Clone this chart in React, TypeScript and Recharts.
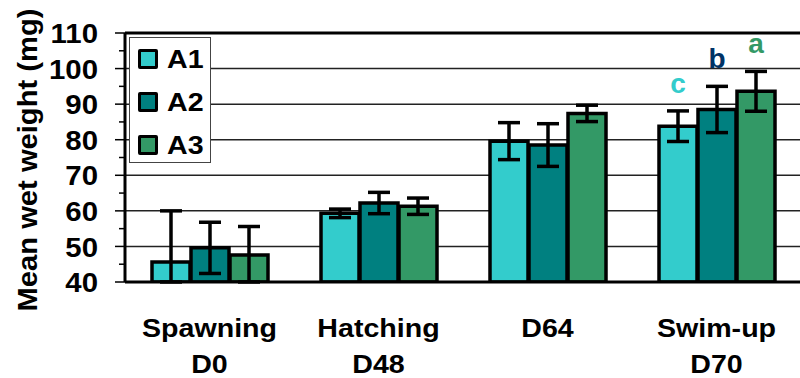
import React from 'react';
import {
  BarChart,
  Bar,
  XAxis,
  YAxis,
  CartesianGrid,
  ErrorBar,
  ReferenceLine,
  Legend,
  LabelList,
} from 'recharts';

// ---- data ----
const stages = ['Spawning', 'Hatching', 'D64', 'Swim-up'];
const days = ['D0', 'D48', '', 'D70'];

const a1Mean = [45.6, 59.3, 79.6, 83.8];
const a1ErrLow = [5.6, 1.2, 5.2, 4.3];
const a1ErrHigh = [14.4, 1.2, 5.2, 4.3];
const a2Mean = [49.6, 62.2, 78.5, 88.5];
const a2ErrLow = [7.2, 3.0, 6.0, 6.5];
const a2ErrHigh = [7.2, 3.0, 6.0, 6.5];
const a3Mean = [47.6, 61.3, 87.4, 93.6];
const a3ErrLow = [7.6, 2.3, 2.3, 5.6];
const a3ErrHigh = [8.0, 2.3, 2.3, 5.6];

const a1Letter = ['', '', '', 'c'];
const a2Letter = ['', '', '', 'b'];
const a3Letter = ['', '', '', 'a'];

const seriesNames = ['A1', 'A2', 'A3'];
const seriesColors = ['#33CCCC', '#008080', '#339966'];
const letterColors = ['#33CCCC', '#003366', '#339966'];

const yTicks = [40, 45, 50, 55, 60, 65, 70, 75, 80, 85, 90, 95, 100, 105, 110];
const gridValues = [50, 60, 70, 80, 90, 100];
const edgeTicks = [0, 1, 2, 3, 4];
const Y_MIN = 40;
const Y_MAX = 110;

const data = stages.map((s, i) => ({
  stage: s,
  A1: a1Mean[i],
  A1err: [a1ErrLow[i], a1ErrHigh[i]],
  A1letter: a1Letter[i],
  A2: a2Mean[i],
  A2err: [a2ErrLow[i], a2ErrHigh[i]],
  A2letter: a2Letter[i],
  A3: a3Mean[i],
  A3err: [a3ErrLow[i], a3ErrHigh[i]],
  A3letter: a3Letter[i],
}));

const FONT = '"Liberation Sans", Arial, Helvetica, sans-serif';
const Y_TICK_SIZE = 10;
const Y_TICK_MARGIN = 17;
const STRETCH = 1.1;

const YTick = (props: any) => {
  const { x, y, payload } = props;
  const v = payload.value;
  const major = v % 10 === 0;
  const axisX = x + Y_TICK_SIZE + Y_TICK_MARGIN;
  return (
    <g>
      <line
        x1={axisX - (major ? 10 : 6)}
        x2={axisX}
        y1={y}
        y2={y}
        stroke="#000"
        strokeWidth={1.5}
      />
      {major && (
        <text
          transform={`translate(${x},${y}) scale(1.05,1)`}
          x={0}
          y={0}
          dy="0.36em"
          textAnchor="end"
          fontFamily={FONT}
          fontWeight="bold"
          fontSize={28}
          fill="#000"
        >
          {v}
        </text>
      )}
    </g>
  );
};

const XTick = (props: any) => {
  const { x, y, payload, index } = props;
  const i = typeof index === 'number' ? index : stages.indexOf(payload.value);
  return (
    <g>
      <text
        transform={`translate(${x},${y + 55}) scale(${STRETCH},1)`}
        x={0}
        y={0}
        textAnchor="middle"
        fontFamily={FONT}
        fontWeight="bold"
        fontSize={26}
        fill="#000"
      >
        {payload.value}
      </text>
      {days[i] ? (
        <text
          transform={`translate(${x},${y + 91}) scale(${STRETCH},1)`}
          x={0}
          y={0}
          textAnchor="middle"
          fontFamily={FONT}
          fontWeight="bold"
          fontSize={26}
          fill="#000"
        >
          {days[i]}
        </text>
      ) : null}
    </g>
  );
};

const YLabel = () => (
  <text
    transform={`translate(37,160) rotate(-90) scale(1.08,1)`}
    x={0}
    y={0}
    textAnchor="middle"
    fontFamily={FONT}
    fontWeight="bold"
    fontSize={27}
    fill="#000"
  >
    Mean wet weight (mg)
  </text>
);

const makeLetterLabel = (means: number[], errs: number[], color: string) => (props: any) => {
  const vb = props.viewBox || props;
  const { x, y, width, height } = vb;
  const idx = props.index;
  const letter = props.value;
  if (!letter || typeof idx !== 'number') return null;
  const pxPerUnit = height / (means[idx] - Y_MIN);
  const top = y - errs[idx] * pxPerUnit;
  return (
    <text
      x={x + width / 2}
      y={top - 18}
      textAnchor="middle"
      fontFamily={FONT}
      fontWeight="bold"
      fontSize={28}
      fill={color}
    >
      {letter}
    </text>
  );
};

const LegendBox = () => (
  <div
    style={{
      boxSizing: 'border-box',
      width: 82,
      height: 126,
      border: '1px solid #444',
      background: '#fff',
      position: 'relative',
      fontFamily: FONT,
    }}
  >
    {seriesNames.map((n, i) => (
      <div
        key={n}
        style={{
          position: 'absolute',
          left: 8,
          top: 11 + i * 43,
          height: 20,
          display: 'flex',
          alignItems: 'center',
        }}
      >
        <span
          style={{
            display: 'inline-block',
            width: 14,
            height: 14,
            border: '3px solid #000',
            borderRadius: 2,
            background: seriesColors[i],
          }}
        />
        <span
          style={{
            display: 'inline-block',
            marginLeft: 9,
            fontSize: 26,
            fontWeight: 'bold',
            lineHeight: '20px',
            color: '#000',
            transform: `scaleX(${STRETCH})`,
            transformOrigin: 'left center',
          }}
        >
          {n}
        </span>
      </div>
    ))}
  </div>
);

const means = [a1Mean, a2Mean, a3Mean];
const errsHigh = [a1ErrHigh, a2ErrHigh, a3ErrHigh];

export default function App() {
  return (
    <div
      style={{
        position: 'absolute',
        left: 0,
        top: 0,
        width: 800,
        height: 378,
        overflow: 'hidden',
        background: '#fff',
      }}
    >
      <style>{`.recharts-errorBar line { stroke-width: 3.5px; stroke: #000; }`}</style>
      <BarChart
        width={801}
        height={378}
        data={data}
        margin={{ top: 33, right: 0, left: 0, bottom: 0 }}
        barGap={1}
        barSize={38}
      >
        <CartesianGrid
          horizontal
          vertical={false}
          horizontalValues={gridValues}
          stroke="#222"
          strokeWidth={1.5}
        />
        <XAxis
          xAxisId="edge"
          type="number"
          domain={[0, 4]}
          ticks={edgeTicks}
          allowDataOverflow
          tick={false}
          tickLine={{ stroke: '#000', strokeWidth: 1.5 }}
          tickSize={10}
          axisLine={false}
          height={0}
        />
        <XAxis
          dataKey="stage"
          tick={<XTick />}
          tickLine={false}
          tickSize={0}
          tickMargin={0}
          interval={0}
          axisLine={{ stroke: '#000', strokeWidth: 3 }}
          height={96}
        />
        <YAxis
          domain={[Y_MIN, Y_MAX]}
          ticks={yTicks}
          interval={0}
          allowDataOverflow
          width={125}
          tick={<YTick />}
          tickLine={false}
          tickSize={Y_TICK_SIZE}
          tickMargin={Y_TICK_MARGIN}
          axisLine={{ stroke: '#000', strokeWidth: 3 }}
          label={{ value: 'Mean wet weight (mg)', content: YLabel }}
        />
        <ReferenceLine y={Y_MAX} stroke="#000" strokeWidth={3} />
        <Legend
          layout="vertical"
          align="center"
          verticalAlign="middle"
          content={LegendBox}
          wrapperStyle={{ left: 129, top: 37, width: 82, height: 126 }}
        />
        {seriesNames.map((n, i) => (
          <Bar
            key={n}
            dataKey={n}
            fill={seriesColors[i]}
            stroke="#000"
            strokeWidth={3.5}
            isAnimationActive={false}
          >
            <ErrorBar
              dataKey={`${n}err`}
              width={11}
              stroke="#000"
              strokeWidth={4}
              direction="y"
            />
            <LabelList
              dataKey={`${n}letter`}
              content={makeLetterLabel(means[i], errsHigh[i], letterColors[i])}
            />
          </Bar>
        ))}
      </BarChart>
    </div>
  );
}
